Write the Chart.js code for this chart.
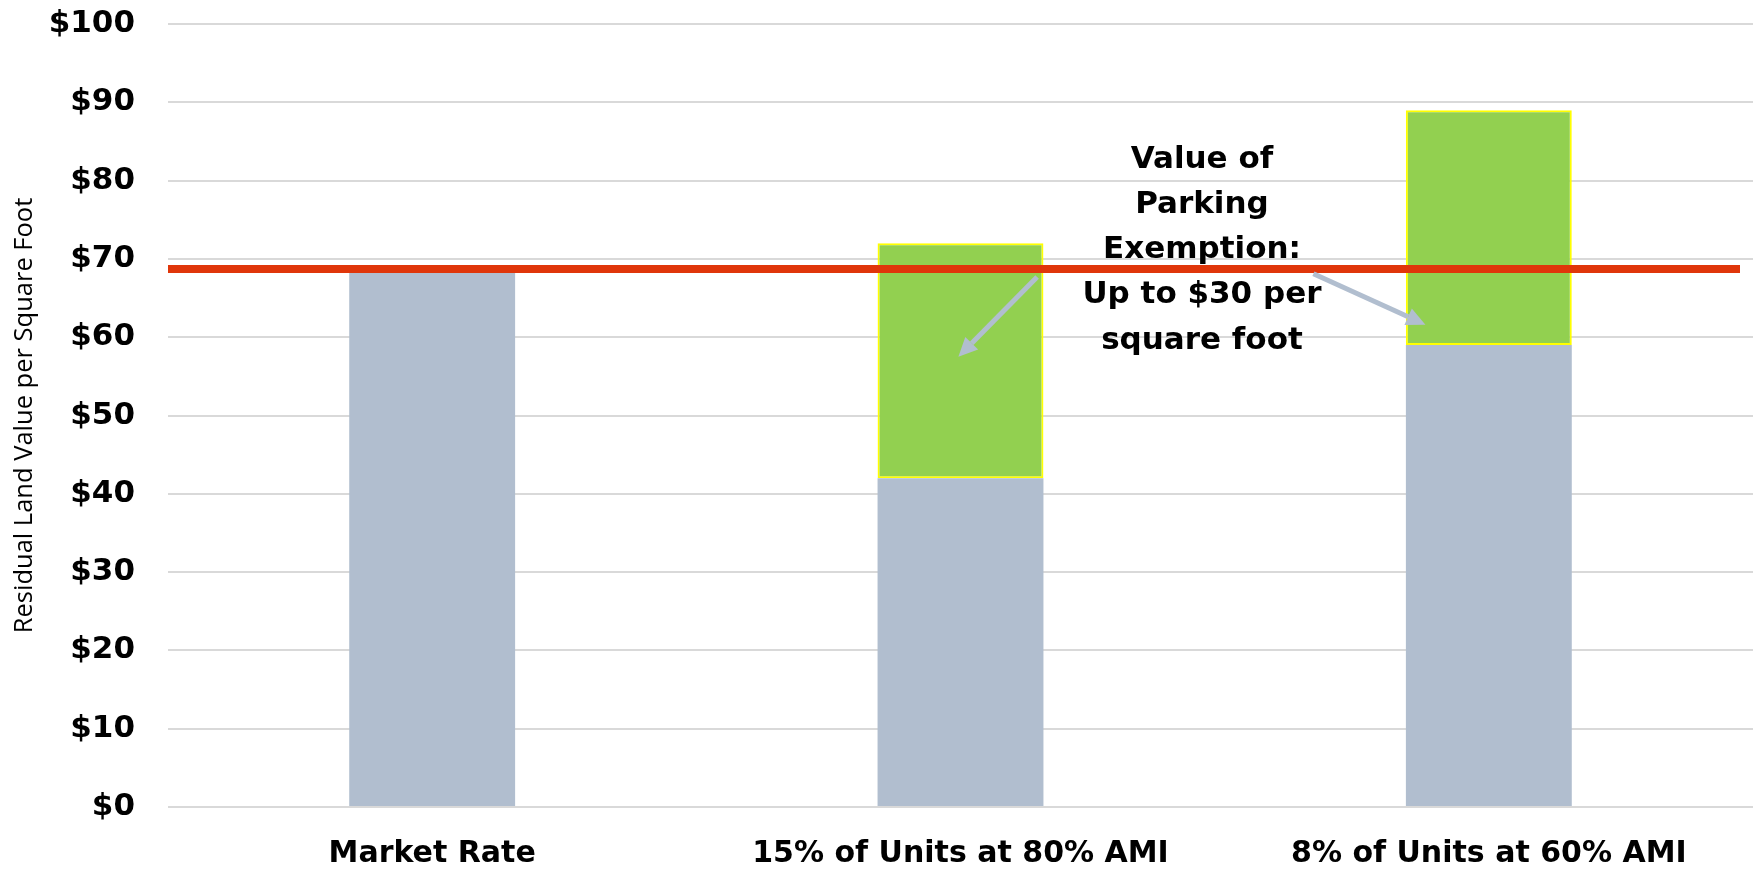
<!DOCTYPE html>
<html>
<head>
<meta charset="utf-8">
<script src="https://cdn.jsdelivr.net/npm/chart.js@4/dist/chart.umd.min.js"></script>
<style>
  html, body { margin: 0; padding: 0; background: #ffffff; }
  #wrap { width: 1758px; height: 870px; position: relative; }
</style>
</head>
<body>
<div id="wrap"><canvas id="c"></canvas></div>
<script>
// ---- data ----
const categories = ["Market Rate", "15% of Units at 80% AMI", "8% of Units at 60% AMI"];
const baseValues = [68.2, 42, 59];
const parkingValues = [null, 30, 30];
const referenceValue = [68.7];
const yTickValues = [0, 10, 20, 30, 40, 50, 60, 70, 80, 90, 100];
const yAxisTitle = "Residual Land Value per Square Foot";
const calloutLines = ["Value of", "Parking", "Exemption:", "Up to $30 per", "square foot"];

// ---- annotation placement (in data units: category index, value) ----
const calloutCenter = { x: 1.457, yTop: 82.7 };
const arrows = [
  { from: { x: 1.145, y: 67.7 }, to: { x: 0.996, y: 57.5 } },
  { from: { x: 1.668, y: 68.1 }, to: { x: 1.880, y: 61.6 } }
];

const FONT_BOLD = "'DejaVu Sans', sans-serif";
const GRAY = "#B1BECF";
const GREEN = "#92D050";
const RED = "#E0360A";

const overlayPlugin = {
  id: "overlay",
  afterDatasetsDraw(chart) {
    const { ctx, chartArea, scales } = chart;
    const xs = scales.x, ys = scales.y;
    const catW = (xs.getPixelForValue(1) - xs.getPixelForValue(0));
    const px = v => xs.getPixelForValue(0) + v * catW;
    ctx.save();
    // reference line
    const yRef = ys.getPixelForValue(referenceValue[0]);
    ctx.strokeStyle = RED;
    ctx.lineWidth = 8;
    ctx.beginPath();
    ctx.moveTo(chartArea.left, yRef);
    ctx.lineTo(chartArea.right - 13, yRef);
    ctx.stroke();

    // arrows
    arrows.forEach(a => {
      const x1 = px(a.from.x), y1 = ys.getPixelForValue(a.from.y);
      const x2 = px(a.to.x), y2 = ys.getPixelForValue(a.to.y);
      const ang = Math.atan2(y2 - y1, x2 - x1);
      const headLen = 19, headW = 9;
      const bx = x2 - headLen * Math.cos(ang), by = y2 - headLen * Math.sin(ang);
      ctx.strokeStyle = GRAY;
      ctx.lineWidth = 5;
      ctx.lineCap = "butt";
      ctx.beginPath();
      ctx.moveTo(x1, y1);
      ctx.lineTo(bx, by);
      ctx.stroke();
      ctx.fillStyle = GRAY;
      ctx.beginPath();
      ctx.moveTo(x2, y2);
      ctx.lineTo(bx + headW * Math.sin(ang), by - headW * Math.cos(ang));
      ctx.lineTo(bx - headW * Math.sin(ang), by + headW * Math.cos(ang));
      ctx.closePath();
      ctx.fill();
    });

    // callout text
    ctx.fillStyle = "#000000";
    ctx.font = "bold 31px " + FONT_BOLD;
    ctx.textAlign = "center";
    ctx.textBaseline = "middle";
    const cx = px(calloutCenter.x);
    let cy = ys.getPixelForValue(calloutCenter.yTop);
    calloutLines.forEach((t, i) => {
      ctx.fillText(t, cx, cy + i * 45.3);
    });
    ctx.restore();
  }
};

new Chart(document.getElementById("c"), {
  type: "bar",
  data: {
    labels: categories,
    datasets: [
      {
        label: "Residual Land Value",
        data: baseValues,
        backgroundColor: GRAY,
        borderWidth: 0,
        barPercentage: 0.314,
        categoryPercentage: 1.0
      },
      {
        label: "Value of Parking Exemption",
        data: parkingValues,
        backgroundColor: GREEN,
        borderColor: "#FFFF00",
        borderWidth: 2,
        borderSkipped: false,
        barPercentage: 0.314,
        categoryPercentage: 1.0
      }
    ]
  },
  options: {
    responsive: true,
    maintainAspectRatio: false,
    animation: false,
    devicePixelRatio: 1,
    layout: { padding: { left: 5, right: 5, top: 0, bottom: 0 } },
    plugins: {
      legend: { display: false },
      tooltip: { enabled: false }
    },
    scales: {
      x: {
        stacked: true,
        grid: { display: false, drawTicks: false },
        border: { display: false },
        ticks: {
          color: "#000000",
          padding: 29,
          font: { family: FONT_BOLD, size: 30, weight: "bold" }
        },
        afterFit(scale) { scale.height = 63; }
      },
      y: {
        stacked: true,
        min: 0,
        max: 100,
        afterBuildTicks(scale) { scale.ticks = yTickValues.map(v => ({ value: v })); },
        grid: { color: "#D9D9D9", lineWidth: 2, drawTicks: false },
        border: { display: false },
        ticks: {
          color: "#000000",
          padding: 33,
          font: { family: FONT_BOLD, size: 31, weight: "bold" },
          callback: v => "$" + v
        },
        title: {
          display: true,
          text: yAxisTitle,
          color: "#000000",
          font: { family: "'Open Sans', sans-serif", size: 25.5, weight: "normal" },
          padding: { top: 4, bottom: 4 }
        },
        afterFit(scale) {
          scale.width = 163;
          scale.paddingTop = 24;
          scale.paddingBottom = 0;
        }
      }
    }
  },
  plugins: [overlayPlugin]
});
</script>
</body>
</html>
